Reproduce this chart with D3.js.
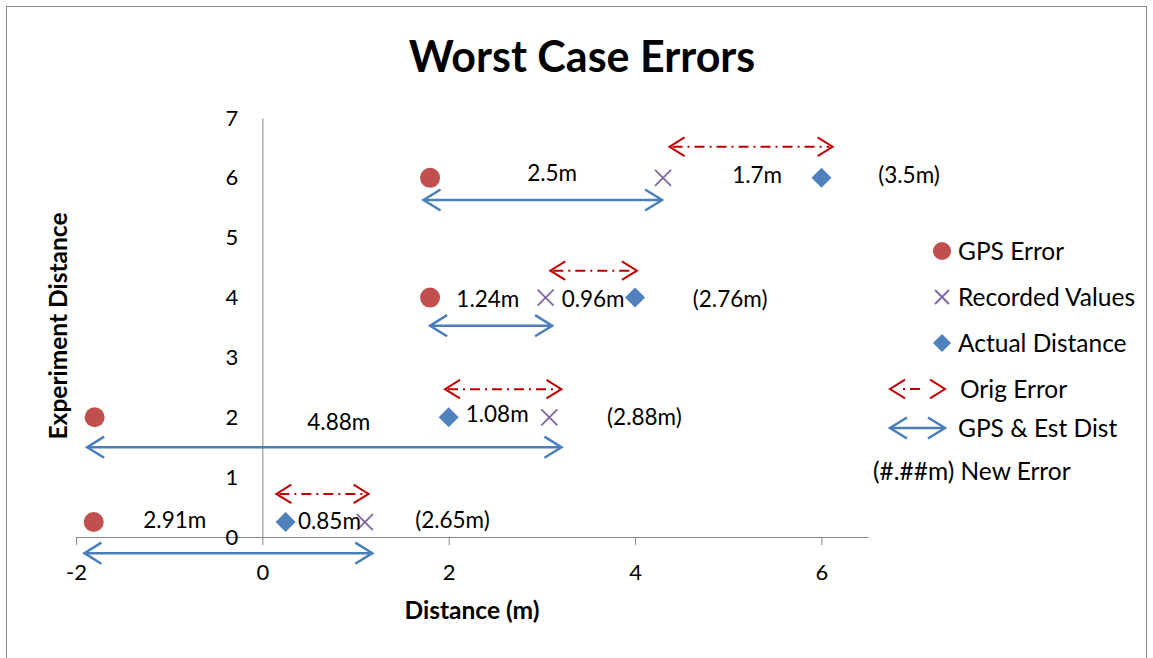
<!DOCTYPE html>
<html>
<head>
<meta charset="utf-8">
<script src="https://cdn.jsdelivr.net/npm/d3@7"></script>
<style>
  html, body { margin: 0; padding: 0; background: #fff; }
  svg { display: block; font-family: Lato, "Open Sans", sans-serif; }
</style>
</head>
<body>
<svg id="chart" width="1153" height="658"></svg>
<script>
// Point series: [distance, experiment]
const gpsError = [[-1.81, 0.25], [-1.8, 2], [1.8, 4], [1.8, 6]];
const recordedValues = [[1.1, 0.25], [3.08, 2], [3.04, 4], [4.3, 6]];
const actualDistance = [[0.25, 0.25], [2, 2], [4, 4], [6, 6]];

// Arrow annotations: [from, to, level]
const origErrorArrows = [[0.15, 1.14, 0.72], [1.96, 3.21, 2.47], [3.09, 4.02, 4.45], [4.37, 6.12, 6.52]];
const gpsEstArrows = [[-1.91, 1.18, -0.27], [-1.88, 3.21, 1.5], [1.8, 3.11, 3.53], [1.73, 4.29, 5.63]];

// Text annotations: [label, x, y]
const errorLabels = [
  ["2.91m", -0.94, 0.28], ["0.85m", 0.72, 0.27], ["(2.65m)", 2.04, 0.28],
  ["4.88m", 0.82, 1.92], ["1.08m", 2.52, 2.05], ["(2.88m)", 4.1, 2.0],
  ["1.24m", 2.42, 3.98], ["0.96m", 3.55, 3.98], ["(2.76m)", 5.02, 3.97],
  ["2.5m", 3.11, 6.08], ["1.7m", 5.31, 6.04], ["(3.5m)", 6.94, 6.04]
];

const xTicks = [-2, 0, 2, 4, 6];
const yTicks = [0, 1, 2, 3, 4, 5, 6, 7];

const colors = { gps: "#C0504D", rec: "#8064A2", act: "#4F81BD", orig: "#C00000", est: "#4A7EBB", axis: "#868686" };

const svg = d3.select("#chart");

// outer frame
svg.append("rect").attr("x", 6.5).attr("y", 6.5).attr("width", 1140).attr("height", 700)
  .attr("fill", "none").attr("stroke", "#8c8c8c").attr("stroke-width", 1);

const x = d3.scaleLinear().domain([-2, 6.5]).range([76, 868]);
const y = d3.scaleLinear().domain([0, 7]).range([537, 118]);

// title
svg.append("text").attr("x", 582).attr("y", 72).attr("text-anchor", "middle")
  .attr("font-size", 43).attr("font-weight", "bold").text("Worst Case Errors");

// x axis (plain hyphen for negatives)
const xAxis = svg.append("g").attr("transform", `translate(0,${y(0)})`)
  .call(d3.axisBottom(x).tickValues(xTicks).tickSize(8).tickSizeOuter(0).tickPadding(19).tickFormat(d => String(d)));
xAxis.select(".domain").attr("stroke", colors.axis);
xAxis.selectAll(".tick line").attr("stroke", colors.axis);
xAxis.selectAll(".tick text").attr("font-size", 22).attr("font-family", "Lato, sans-serif").attr("fill", "#000");

// y axis sits on x = 0
const yAxis = svg.append("g").attr("transform", `translate(${x(0)},0)`)
  .call(d3.axisLeft(y).tickValues(yTicks).tickSize(0).tickSizeOuter(0).tickPadding(24).tickFormat(d => String(d)));
yAxis.select(".domain").attr("stroke", colors.axis);
yAxis.selectAll(".tick text").attr("font-size", 22).attr("font-family", "Lato, sans-serif").attr("fill", "#000");

// axis titles
svg.append("text").attr("x", 472).attr("y", 619).attr("text-anchor", "middle")
  .attr("font-size", 24.5).attr("font-weight", "bold").text("Distance (m)");
svg.append("text").attr("transform", "translate(67,326) rotate(-90)").attr("text-anchor", "middle")
  .attr("font-size", 24.5).attr("font-weight", "bold").text("Experiment Distance");

// arrow helpers
function arrowPath(x1, x2, yy, head) {
  const h = head, w = head * 0.62;
  return `M${x1 + h},${yy - w} L${x1},${yy} L${x1 + h},${yy + w} M${x2 - h},${yy - w} L${x2},${yy} L${x2 - h},${yy + w}`;
}

const gEst = svg.append("g");
gEst.selectAll("line").data(gpsEstArrows).join("line")
  .attr("x1", d => x(d[0])).attr("x2", d => x(d[1]))
  .attr("y1", d => y(d[2])).attr("y2", d => y(d[2]))
  .attr("stroke", colors.est).attr("stroke-width", 2.5);
gEst.selectAll("path").data(gpsEstArrows).join("path")
  .attr("d", d => arrowPath(x(d[0]), x(d[1]), y(d[2]), 17))
  .attr("fill", "none").attr("stroke", colors.est).attr("stroke-width", 2.5);

const gOrig = svg.append("g");
gOrig.selectAll("line").data(origErrorArrows).join("line")
  .attr("x1", d => x(d[0]) + 3).attr("x2", d => x(d[1]) - 3)
  .attr("y1", d => y(d[2])).attr("y2", d => y(d[2]))
  .attr("stroke", colors.orig).attr("stroke-width", 2).attr("stroke-dasharray", "10,5,2,5");
gOrig.selectAll("path").data(origErrorArrows).join("path")
  .attr("d", d => arrowPath(x(d[0]), x(d[1]), y(d[2]), 15))
  .attr("fill", "none").attr("stroke", colors.orig).attr("stroke-width", 2);

// markers
const diamond = (cx, cy, r) => `M${cx},${cy - r} L${cx + r},${cy} L${cx},${cy + r} L${cx - r},${cy} Z`;
const cross = (cx, cy, r) => `M${cx - r},${cy - r} L${cx + r},${cy + r} M${cx - r},${cy + r} L${cx + r},${cy - r}`;

svg.append("g").selectAll("circle").data(gpsError).join("circle")
  .attr("cx", d => x(d[0])).attr("cy", d => y(d[1])).attr("r", 10).attr("fill", colors.gps);
svg.append("g").selectAll("path").data(recordedValues).join("path")
  .attr("d", d => cross(x(d[0]), y(d[1]), 8)).attr("stroke", colors.rec).attr("stroke-width", 1.8).attr("fill", "none");
svg.append("g").selectAll("path").data(actualDistance).join("path")
  .attr("d", d => diamond(x(d[0]), y(d[1]), 10)).attr("fill", colors.act);

// value labels
svg.append("g").selectAll("text").data(errorLabels).join("text")
  .attr("x", d => x(d[1])).attr("y", d => y(d[2])).attr("dy", "0.35em")
  .attr("text-anchor", "middle").attr("font-size", 22.5).text(d => d[0]);

// legend
const lg = svg.append("g").attr("font-size", 24.5);
lg.append("circle").attr("cx", 942).attr("cy", 251).attr("r", 9).attr("fill", colors.gps);
lg.append("text").attr("x", 958).attr("y", 251).attr("dy", "0.35em").text("GPS Error");
lg.append("path").attr("d", cross(942, 297, 7)).attr("stroke", colors.rec).attr("stroke-width", 1.8);
lg.append("text").attr("x", 958).attr("y", 297).attr("dy", "0.35em").text("Recorded Values");
lg.append("path").attr("d", diamond(942, 343, 9)).attr("fill", colors.act);
lg.append("text").attr("x", 958).attr("y", 343).attr("dy", "0.35em").text("Actual Distance");
lg.append("line").attr("x1", 893).attr("x2", 942).attr("y1", 389).attr("y2", 389)
  .attr("stroke", colors.orig).attr("stroke-width", 2).attr("stroke-dasharray", "0,10,2,5,10,30");
lg.append("path").attr("d", arrowPath(890, 945, 389, 15)).attr("fill", "none").attr("stroke", colors.orig).attr("stroke-width", 2);
lg.append("text").attr("x", 960).attr("y", 389).attr("dy", "0.35em").text("Orig Error");
lg.append("line").attr("x1", 890).attr("x2", 945).attr("y1", 428).attr("y2", 428)
  .attr("stroke", colors.est).attr("stroke-width", 2.5);
lg.append("path").attr("d", arrowPath(890, 945, 428, 17)).attr("fill", "none").attr("stroke", colors.est).attr("stroke-width", 2.5);
lg.append("text").attr("x", 958).attr("y", 428).attr("dy", "0.35em").text("GPS & Est Dist");
lg.append("text").attr("x", 873).attr("y", 471).attr("dy", "0.35em").text("(#.##m) New Error");
</script>
</body>
</html>
